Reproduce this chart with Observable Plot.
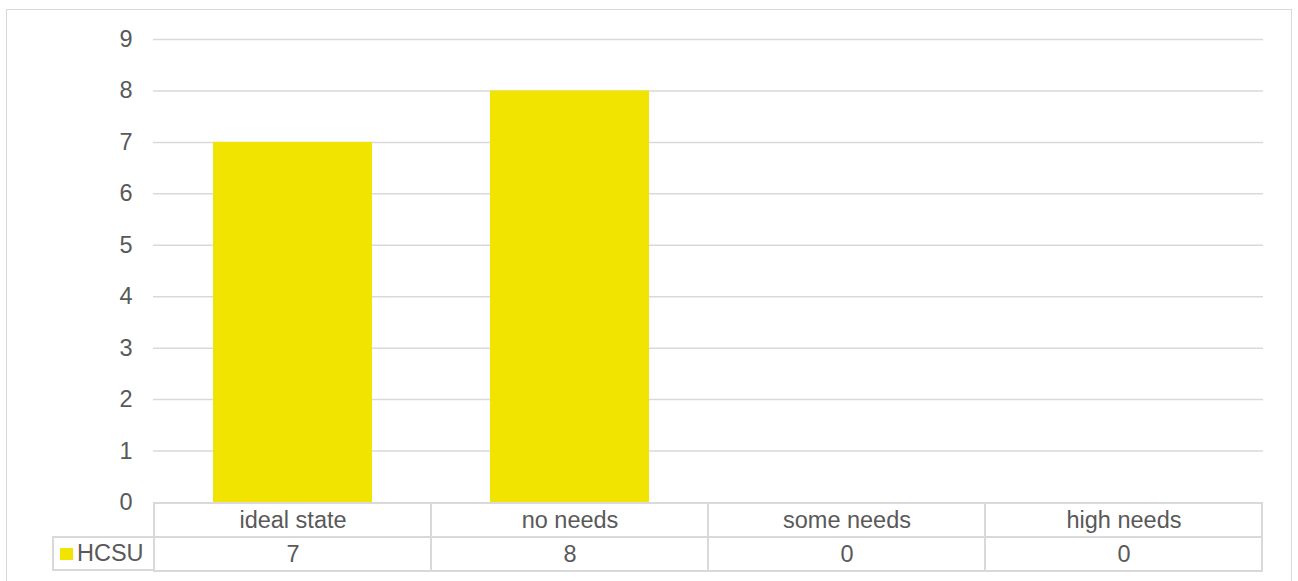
<!DOCTYPE html>
<html>
<head>
<meta charset="utf-8">
<script src="https://cdn.jsdelivr.net/npm/d3@7"></script>
<script src="https://cdn.jsdelivr.net/npm/@observablehq/plot@0.6"></script>
<style>
  html, body { margin: 0; padding: 0; background: #fff; }
  #wrap { position: relative; width: 1298px; height: 581px; overflow: hidden; font-family: "Liberation Sans", Arial, sans-serif; }
  #frame { position: absolute; left: 6px; top: 9px; width: 1286px; height: 600px; border: 1.5px solid #D9D9D9; box-sizing: border-box; }
  #main { position: absolute; left: 0; top: 0; }
  #table { position: absolute; left: 0; top: 0; }
  #legend { position: absolute; left: 52px; top: 536px; width: 101px; height: 35px; border: 2px solid #D9D9D9; border-right: none; box-sizing: border-box; display: flex; align-items: center; color: #595959; font-size: 23.5px; }
  #legend .sw { display: inline-block; width: 13px; height: 12px; margin-left: 6px; margin-right: 4px; }
  svg text { font-family: "Liberation Sans", Arial, sans-serif; }
</style>
</head>
<body>
<div id="wrap">
  <div id="frame"></div>
  <div id="main"></div>
  <div id="table"></div>
  <div id="legend"><span class="sw"></span><span class="lbl"></span></div>
</div>
<script>
const categories = ["ideal state", "no needs", "some needs", "high needs"];
const seriesName = "HCSU";
const values = [7, 8, 0, 0];
const yTicks = [0, 1, 2, 3, 4, 5, 6, 7, 8, 9];

const barColor = "#F0E400";
const gridColor = "#D9D9D9";
const textColor = "#595959";

const data = categories.map((c, i) => ({category: c, value: values[i]}));

const W = 1298, H = 581;
const mLeft = 153, mRight = W - 1263, mTop = 39, y0 = 502;
const gap = 0.427;
const fs = 23.5;

const main = Plot.plot({
  width: W,
  height: H,
  marginLeft: mLeft,
  marginRight: mRight,
  marginTop: mTop,
  marginBottom: H - y0,
  style: {background: "transparent", fontFamily: "Liberation Sans, Arial, sans-serif", fontSize: fs + "px", color: textColor, overflow: "visible"},
  x: {domain: categories, paddingInner: gap, paddingOuter: gap / 2, axis: null},
  y: {domain: [0, 9], axis: null},
  marks: [
    Plot.ruleY(yTicks.filter(t => t > 0), {stroke: gridColor, strokeWidth: 1.5}),
    Plot.barY(data, {x: "category", y: "value", fill: barColor}),
    Plot.text(yTicks, {x: null, y: d => d, text: d => String(d), frameAnchor: "left", textAnchor: "end", dx: -21, fill: textColor, fontSize: fs})
  ]
});
document.getElementById("main").appendChild(main);

// Data table below the plot: header row with categories, value row with numbers
const rows = ["header", "value"];
const cells = [];
categories.forEach((c, i) => {
  cells.push({category: c, row: "header", text: c});
  cells.push({category: c, row: "value", text: String(values[i])});
});

const table = Plot.plot({
  width: W,
  height: H,
  marginLeft: mLeft,
  marginRight: mRight,
  marginTop: y0,
  marginBottom: H - 571,
  style: {background: "transparent", fontFamily: "Liberation Sans, Arial, sans-serif", fontSize: fs + "px", color: textColor, overflow: "visible"},
  x: {domain: categories, padding: 0, axis: null},
  y: {domain: rows, padding: 0, axis: null},
  marks: [
    Plot.cell(cells, {x: "category", y: "row", fill: "none", stroke: gridColor, strokeWidth: 2}),
    Plot.text(cells, {x: "category", y: "row", text: "text", fill: textColor, fontSize: fs})
  ]
});
document.getElementById("table").appendChild(table);

const lg = document.getElementById("legend");
lg.querySelector(".sw").style.background = barColor;
lg.querySelector(".lbl").textContent = seriesName;
</script>
</body>
</html>
